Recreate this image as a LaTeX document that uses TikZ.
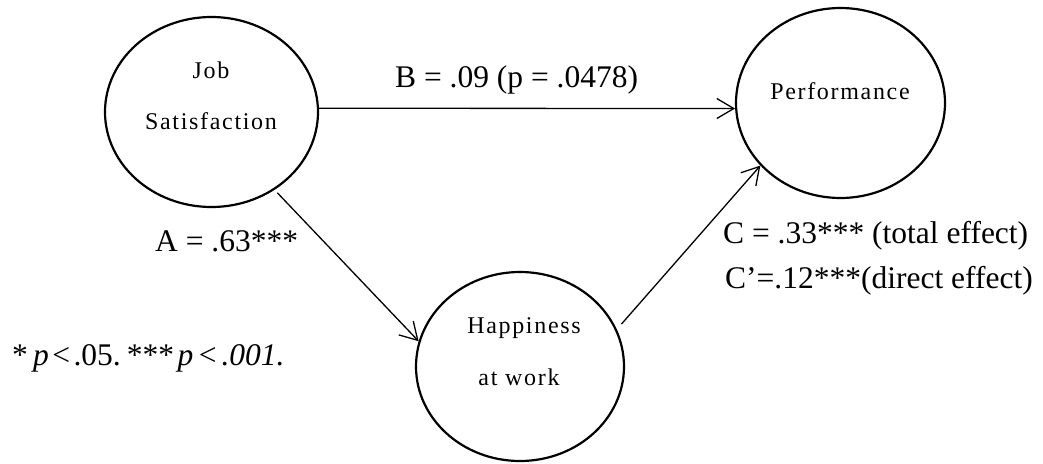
\documentclass[tikz,border=0pt]{standalone}
\usepackage{fontspec}
\setmainfont{Liberation Serif}
\newfontfamily\nodefont[LetterSpace=7]{Liberation Serif}
\usetikzlibrary{shapes.geometric,arrows.meta}
\begin{document}
\begin{tikzpicture}[x=1pt,y=-1pt,
  var/.style={ellipse,draw,line width=2.2pt,inner sep=0pt},
  lbl/.style={font=\fontsize{31.5}{36}\selectfont,anchor=base west,inner sep=0pt},
  ntxt/.style={font=\nodefont\fontsize{24}{28}\selectfont,anchor=base,inner sep=0pt},
  arr/.style={line width=1.3pt,-{Straight Barb[length=17pt,width=20pt]}}]
\useasboundingbox (0,0) rectangle (1043,463);
% variables
\node[var,minimum width=213pt,minimum height=190pt] (J) at (211.5,112) {};
\node[var,minimum width=209pt,minimum height=190pt] (P) at (840.5,103) {};
\node[var,minimum width=208pt,minimum height=189pt] (H) at (520,366.5) {};
% texts inside
\node[ntxt] (j1) at (211,78) {Job};
\node[ntxt] (j2) at (211,129) {Satisfaction};
\node[ntxt] (p1) at (840,99) {Performance};
\node[ntxt] (h1) at (524,333) {Happiness};
\node[ntxt] (h2) at (519,385) {at work};
% connectors
\draw[arr] (J.2) -- (P.183);
\draw[arr,shorten <=4pt] (J.-51) -- (H.166);
\draw[arr,shorten <=7pt] (H.21) -- (P.218);
% labels
\node[lbl] (lb) at (395,87) {B = .09 (p = .0478)};
\node[lbl] (la) at (155,251) {A = .63***};
\node[lbl] (lc) at (723,243) {C = .33*** (total effect)};
\node[lbl] (lc2) at (725,288) {C’=.12***(direct effect)};
\node[lbl] (fn) at (12,365) {\spaceskip=0.11em *\,\textit{p} < .05. *** \textit{p < .001.}};
\end{tikzpicture}
\end{document}
